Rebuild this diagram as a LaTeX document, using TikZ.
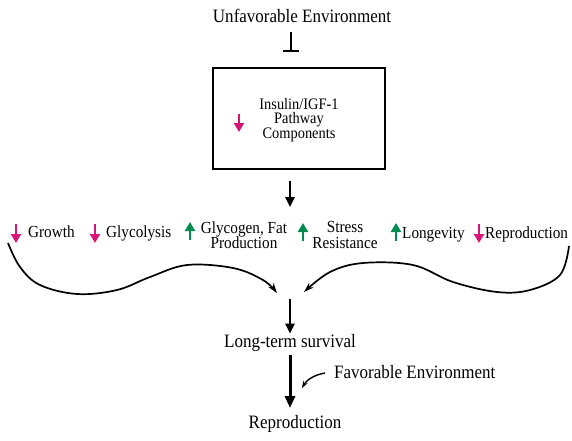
\documentclass[tikz,border=0pt]{standalone}
\usepackage{fontspec}
\setmainfont{Liberation Serif}[FakeStretch=0.9]
\usetikzlibrary{arrows.meta}
\definecolor{dnpink}{RGB}{214,22,118}
\definecolor{upgreen}{RGB}{0,140,80}
\begin{document}
\begin{tikzpicture}[x=1pt,y=-1pt,
  big/.style={font=\fontsize{18.9}{20}\selectfont, inner sep=0pt},
  lbl/.style={font=\fontsize{16.9}{15.5}\selectfont, inner sep=0pt, align=center},
  boxtxt/.style={font=\fontsize{16}{14.8}\selectfont, inner sep=0pt, align=center},
  pathbox/.style={draw, line width=1.1pt, minimum width=172pt, minimum height=101pt, inner sep=0pt},
  mainarrow/.style={line width=2.4pt, -{Triangle[length=10pt,width=9pt]}},
  longarrow/.style={line width=3pt, -{Triangle[length=12pt,width=10pt]}},
  curvearrow/.style={line width=1.7pt, -{Stealth[length=10pt,width=6.5pt]}},
  smallcurve/.style={line width=1.4pt, -{Stealth[length=7pt,width=5pt]}},
  inhibit/.style={line width=1.6pt, -{Bar[width=16pt,line width=1.8pt]}},
  dnarrow/.style={dnpink, line width=2.6pt, -{Triangle[length=9pt,width=10pt]}},
  uparrow/.style={upgreen, line width=2.6pt, -{Triangle[length=9pt,width=10pt]}},
]
\useasboundingbox (0,0) rectangle (572,440);

% top
\node[big, anchor=base] (unfav) at (302,22) {Unfavorable Environment};
\coordinate (tbstart) at (291,32);
\coordinate (tbend) at (291,52);
\draw[inhibit] (tbstart) -- (tbend);

% box
\node[pathbox] (box) at (299,118.5) {};
\node[boxtxt] (boxlbl) at (299,120) {Insulin/IGF-1\\Pathway\\Components};
\draw[dnarrow] (239,114) -- (239,132);

\coordinate (rowin) at (290,207);
\draw[mainarrow, shorten <=11pt] (box.south -| rowin) -- (rowin);

% row of effects
\draw[dnarrow] (16,224) -- (16,243);
\node[lbl, anchor=base west] (growth) at (28,237) {Growth};
\draw[dnarrow] (95,224) -- (95,243);
\node[lbl, anchor=base west] (glyco) at (106,237) {Glycolysis};
\draw[uparrow] (190,240) -- (190,222);
\node[lbl] (glycogen) at (244,235) {Glycogen, Fat\\Production};
\draw[uparrow] (303,241) -- (303,223);
\node[lbl] (stress) at (345,235) {Stress\\Resistance};
\draw[uparrow] (396,241) -- (396,223);
\node[lbl, anchor=base west] (longev) at (402,238) {Longevity};
\draw[dnarrow] (479,224) -- (479,243);
\node[lbl, anchor=base west] (reprow) at (485,238) {Reproduction};

% converging curves
\coordinate (lstart) at (8,243);
\coordinate (lend) at (277,293);
\coordinate (rstart) at (569,246);
\coordinate (rend) at (304,292);
\draw[curvearrow] plot[smooth, tension=0.6] coordinates {(lstart) (20,267) (40,285) (77,294) (117,290) (150,277) (187,265) (233,268) (263,280) (lend)};
\draw[curvearrow] plot[smooth, tension=0.6] coordinates {(rstart) (560,275) (530,290) (497,292) (453,282) (413,265) (363,263) (330,272) (rend)};

% survival
\node[big, anchor=base] (survival) at (290,347) {Long-term survival};
\coordinate (cin) at (290,299);
\draw[mainarrow] (cin) -- (survival.north);

% reproduction
\node[big, anchor=base] (repro) at (295,428) {Reproduction};
\coordinate (lstartb) at (290,355);
\coordinate (lendb) at (290,408);
\draw[longarrow] (lstartb) -- (lendb);

\node[big, anchor=base west] (favenv) at (334,378) {Favorable Environment};
\coordinate (fa) at (325,373);
\coordinate (fb) at (302,388);
\draw[smallcurve] (fa) .. controls (313,375) and (306,381) .. (fb);
\end{tikzpicture}
\end{document}
